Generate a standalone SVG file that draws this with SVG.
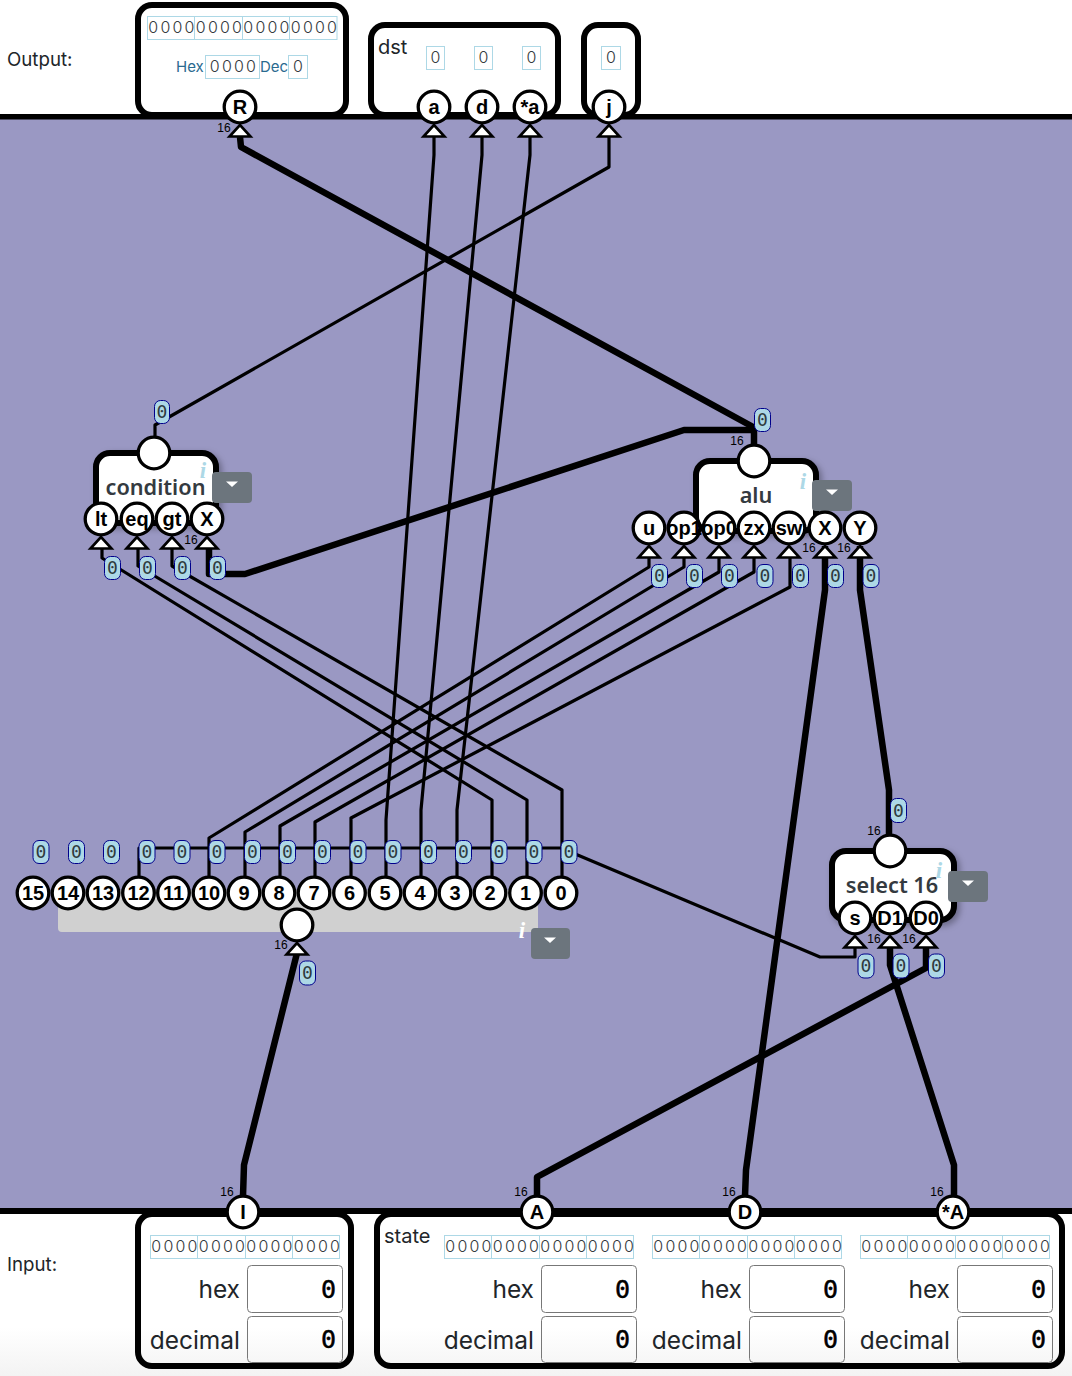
<svg xmlns="http://www.w3.org/2000/svg" width="1072" height="1376" viewBox="0 0 1072 1376">
<defs>
<linearGradient id="foot" x1="0" y1="0" x2="0" y2="1"><stop offset="0" stop-color="#ffffff"/><stop offset="0.7" stop-color="#ffffff"/><stop offset="1" stop-color="#f3f3f3"/></linearGradient>
<filter id="sh" x="-20%" y="-20%" width="150%" height="150%"><feDropShadow dx="3" dy="3" stdDeviation="3" flood-color="#000" flood-opacity="0.3"/></filter>
<polygon id="tri" points="0,0 -10.500,11.500 10.500,11.500" fill="#fff" stroke="#000" stroke-width="2.600" stroke-linejoin="miter"/>
<path id="caret" d="M-6,-2.500 L6,-2.500 L0,3 Z" fill="#fff"/>
</defs>
<style>
text{font-family:"Inter","Noto Sans","Liberation Sans",sans-serif;fill:#212529}
.w{fill:none;stroke:#000;stroke-width:3.200;stroke-linejoin:round;stroke-linecap:butt}
.t{fill:none;stroke:#000;stroke-width:6.500;stroke-linejoin:round;stroke-linecap:butt}
.box{fill:none;stroke:#000;stroke-width:6}
.blk{fill:#fff;stroke:#000;stroke-width:6;filter:url(#sh)}
.p{fill:#fff;stroke:#000;stroke-width:3.300}
.pl{font-family:"Liberation Sans",Arial,sans-serif;font-weight:700;font-size:20px;text-anchor:middle;fill:#000}
.wb{fill:#add8e6;stroke:#00008b;stroke-width:1}
.wt{font-family:"DejaVu Sans Mono",monospace;font-size:18px;text-anchor:middle;fill:#2f3b40}
.n{font-family:"Liberation Sans",Arial,sans-serif;font-size:12px;text-anchor:middle;fill:#000}
.bl{font-family:"Noto Sans","Open Sans",sans-serif;font-weight:600;font-size:21.700px;text-anchor:middle;fill:#343a40}
.i{font-family:"Liberation Serif",serif;font-style:italic;font-weight:700;font-size:23px;text-anchor:middle;fill:#add8e6}
.dd{fill:#6c757d}
.bb{fill:none;stroke:#add8e6;stroke-width:1}
.bt{font-size:16px;letter-spacing:2.200px;text-anchor:middle;fill:#343a40;font-weight:300}
.lab{font-size:24.500px;text-anchor:end}
.inp{fill:none;stroke:#777;stroke-width:1}
.val{font-family:"DejaVu Sans Mono",monospace;font-size:25px;text-anchor:end;fill:#000;stroke:#000;stroke-width:0.500px}
.hd{font-size:15px;fill:#2a6a8f}
</style>

<rect width="1072" height="1376" fill="#fff"/>
<rect y="1214" width="1072" height="162" fill="url(#foot)"/>
<rect y="114" width="1072" height="1100" fill="#9a98c3"/>
<rect y="114" width="1072" height="5.500" fill="#000"/>
<rect y="1208" width="1072" height="6" fill="#000"/>

<text x="7" y="66" font-size="18.700">Output:</text>
<text x="7" y="1271" font-size="18.700">Input:</text>

<g id="connectors">
<path class="t" d="M240,137 L241,147 L755,428"/>
<path class="t" d="M754,445 L754,430 L684,430 L245,574 L209,574 L209,546"/>
<path class="w" d="M434,137 L434,155 L386,820 L386,877"/>
<path class="w" d="M482,137 L482,155 L421,810 L421,877"/>
<path class="w" d="M530,137 L530,155 L457,810 L457,877"/>
<path class="w" d="M609,137 L609,167 L155,425 L155,437"/>
<path class="w" d="M102,546 L102,558 L492,800 L492,877"/>
<path class="w" d="M138,546 L138,566 L527,800 L527,877"/>
<path class="w" d="M172,546 L172,566 L562,790 L562,877"/>
<path class="w" d="M649,555 L649,567 L209,838 L209,877"/>
<path class="w" d="M684,555 L684,567 L245,832 L245,877"/>
<path class="w" d="M719,555 L719,572 L280,826 L280,877"/>
<path class="w" d="M754,555 L754,572 L315,822 L315,877"/>
<path class="w" d="M790,555 L790,587 L351,818 L351,877"/>
<path class="w" d="M139,877 L139,848 L561,848 L820,957 L855,957 L855,947"/>
<path class="t" d="M825,546 L825,590 L746,1170 L745,1196"/>
<path class="t" d="M860,546 L860,590 L889,790 L889,836"/>
<path class="t" d="M890,946 L890,965 L954,1165 L954,1196"/>
<path class="t" d="M926,946 L926,968 L537,1177 L537,1196"/>
<path class="t" d="M297,953 L244,1165 L243,1196"/>

<g id="wire-labels">
<rect class="wb" x="154.500" y="400.500" width="15" height="23" rx="6"/><text class="wt" x="162" y="418">0</text>
<rect class="wb" x="754.500" y="408.500" width="16" height="23" rx="6"/><text class="wt" x="762.500" y="426">0</text>
<rect class="wb" x="104.500" y="556.500" width="16" height="23" rx="6"/><text class="wt" x="112.500" y="574">0</text>
<rect class="wb" x="139.500" y="556.500" width="16" height="23" rx="6"/><text class="wt" x="147.500" y="574">0</text>
<rect class="wb" x="174.500" y="556.500" width="16" height="23" rx="6"/><text class="wt" x="182.500" y="574">0</text>
<rect class="wb" x="209.500" y="556.500" width="16" height="23" rx="6"/><text class="wt" x="217.500" y="574">0</text>
<rect class="wb" x="651.500" y="564.500" width="16" height="23" rx="6"/><text class="wt" x="659.500" y="582">0</text>
<rect class="wb" x="686.500" y="564.500" width="16" height="23" rx="6"/><text class="wt" x="694.500" y="582">0</text>
<rect class="wb" x="721.500" y="564.500" width="16" height="23" rx="6"/><text class="wt" x="729.500" y="582">0</text>
<rect class="wb" x="757" y="564.500" width="16" height="23" rx="6"/><text class="wt" x="765" y="582">0</text>
<rect class="wb" x="792.500" y="564.500" width="16" height="23" rx="6"/><text class="wt" x="800.500" y="582">0</text>
<rect class="wb" x="827.500" y="564.500" width="16" height="23" rx="6"/><text class="wt" x="835.500" y="582">0</text>
<rect class="wb" x="863" y="564.500" width="16" height="23" rx="6"/><text class="wt" x="871" y="582">0</text>
<rect class="wb" x="33" y="840.500" width="16" height="23" rx="6"/><text class="wt" x="41" y="858">0</text>
<rect class="wb" x="68.500" y="840.500" width="16" height="23" rx="6"/><text class="wt" x="76.500" y="858">0</text>
<rect class="wb" x="103.500" y="840.500" width="16" height="23" rx="6"/><text class="wt" x="111.500" y="858">0</text>
<rect class="wb" x="139" y="840.500" width="16" height="23" rx="6"/><text class="wt" x="147" y="858">0</text>
<rect class="wb" x="174" y="840.500" width="16" height="23" rx="6"/><text class="wt" x="182" y="858">0</text>
<rect class="wb" x="209" y="840.500" width="16" height="23" rx="6"/><text class="wt" x="217" y="858">0</text>
<rect class="wb" x="244.500" y="840.500" width="16" height="23" rx="6"/><text class="wt" x="252.500" y="858">0</text>
<rect class="wb" x="279.500" y="840.500" width="16" height="23" rx="6"/><text class="wt" x="287.500" y="858">0</text>
<rect class="wb" x="314.500" y="840.500" width="16" height="23" rx="6"/><text class="wt" x="322.500" y="858">0</text>
<rect class="wb" x="350" y="840.500" width="16" height="23" rx="6"/><text class="wt" x="358" y="858">0</text>
<rect class="wb" x="385" y="840.500" width="16" height="23" rx="6"/><text class="wt" x="393" y="858">0</text>
<rect class="wb" x="420.500" y="840.500" width="16" height="23" rx="6"/><text class="wt" x="428.500" y="858">0</text>
<rect class="wb" x="455.500" y="840.500" width="16" height="23" rx="6"/><text class="wt" x="463.500" y="858">0</text>
<rect class="wb" x="491" y="840.500" width="16" height="23" rx="6"/><text class="wt" x="499" y="858">0</text>
<rect class="wb" x="526" y="840.500" width="16" height="23" rx="6"/><text class="wt" x="534" y="858">0</text>
<rect class="wb" x="561" y="840.500" width="16" height="23" rx="6"/><text class="wt" x="569" y="858">0</text>
<rect class="wb" x="890.500" y="798.500" width="16" height="24" rx="6"/><text class="wt" x="898.500" y="817">0</text>
<rect class="wb" x="858" y="954" width="16" height="24" rx="6"/><text class="wt" x="866" y="972">0</text>
<rect class="wb" x="893" y="954" width="16" height="24" rx="6"/><text class="wt" x="901" y="972">0</text>
<rect class="wb" x="928.500" y="954" width="16" height="24" rx="6"/><text class="wt" x="936.500" y="972">0</text>
<rect class="wb" x="299.500" y="961" width="16" height="24" rx="6"/><text class="wt" x="307.500" y="979">0</text>
</g>
</g>

<g id="output-r">
<rect class="box" x="138" y="5" width="208" height="110" rx="14"/>
<rect class="bb" x="147.500" y="16.500" width="189.500" height="23"/>
<path class="bb" d="M194.500,16.500V39.500M242.500,16.500V39.500M289.500,16.500V39.500"/>
<text class="bt" x="172.500" y="33">0000</text><text class="bt" x="220" y="33">0000</text><text class="bt" x="267.500" y="33">0000</text><text class="bt" x="315" y="33">0000</text>
<text class="hd" x="176" y="72">Hex</text>
<rect class="bb" x="205.500" y="55.500" width="54" height="23"/>
<text class="bt" x="234" y="72">0000</text>
<text class="hd" x="260" y="72">Dec</text>
<rect class="bb" x="288.500" y="55.500" width="19" height="23"/>
<text class="bt" x="299" y="72">0</text>
<circle class="p" cx="240" cy="107" r="15.800"/><text class="pl" x="240" y="114">R</text>
<use href="#tri" x="240" y="125"/>
<text class="n" x="224" y="132">16</text>
</g>

<g id="output-dst">
<rect class="box" x="371" y="25" width="187" height="90" rx="14"/>
<text x="378" y="54" font-size="20">dst</text>
<rect class="bb" x="426.500" y="46.500" width="18" height="23"/><text class="bt" x="436.500" y="63">0</text>
<rect class="bb" x="474.500" y="46.500" width="18" height="23"/><text class="bt" x="484.500" y="63">0</text>
<rect class="bb" x="522.500" y="46.500" width="18" height="23"/><text class="bt" x="532.500" y="63">0</text>
<circle class="p" cx="434" cy="107" r="15.800"/><text class="pl" x="434" y="114">a</text>
<circle class="p" cx="482" cy="107" r="15.800"/><text class="pl" x="482" y="114">d</text>
<circle class="p" cx="530" cy="107" r="15.800"/><text class="pl" x="530" y="114">*a</text>
<use href="#tri" x="434" y="125"/><use href="#tri" x="482" y="125"/><use href="#tri" x="530" y="125"/>
</g>

<g id="output-j">
<rect class="box" x="584" y="25" width="54" height="90" rx="14"/>
<rect class="bb" x="601.500" y="46.500" width="19" height="23"/><text class="bt" x="612" y="63">0</text>
<circle class="p" cx="609" cy="107" r="15.800"/><text class="pl" x="609" y="114">j</text>
<use href="#tri" x="609" y="125"/>
</g>

<g id="condition">
<rect class="blk" x="96" y="453" width="120" height="70" rx="14"/>
<circle class="p" cx="154" cy="453" r="15.800"/>
<text class="bl" x="155.500" y="495">condition</text>
<text class="i" x="203" y="478">i</text>
<rect class="dd" x="212" y="472" width="40" height="31" rx="4"/><use href="#caret" x="232" y="484"/>
<circle class="p" cx="101" cy="519" r="15.800"/><text class="pl" x="101" y="526">lt</text>
<circle class="p" cx="137" cy="519" r="15.800"/><text class="pl" x="137" y="526">eq</text>
<circle class="p" cx="172" cy="519" r="15.800"/><text class="pl" x="172" y="526">gt</text>
<circle class="p" cx="207" cy="519" r="15.800"/><text class="pl" x="207" y="526">X</text>
<use href="#tri" x="101" y="537"/><use href="#tri" x="137" y="537"/><use href="#tri" x="172" y="537"/><use href="#tri" x="207" y="537"/>
<text class="n" x="191" y="544">16</text>
</g>

<g id="alu">
<rect class="blk" x="696" y="461" width="120" height="70" rx="14"/>
<circle class="p" cx="754" cy="461" r="15.800"/>
<text class="n" x="737" y="445">16</text>
<text class="bl" x="756" y="503">alu</text>
<text class="i" x="803" y="489">i</text>
<rect class="dd" x="812" y="480" width="40" height="31" rx="4"/><use href="#caret" x="832" y="492"/>
<circle class="p" cx="649" cy="528" r="15.800"/><text class="pl" x="649" y="535">u</text>
<circle class="p" cx="684" cy="528" r="15.800"/><text class="pl" x="684" y="535">op1</text>
<circle class="p" cx="719" cy="528" r="15.800"/><text class="pl" x="719" y="535">op0</text>
<circle class="p" cx="754" cy="528" r="15.800"/><text class="pl" x="754" y="535">zx</text>
<circle class="p" cx="789" cy="528" r="15.800"/><text class="pl" x="789" y="535">sw</text>
<circle class="p" cx="825" cy="528" r="15.800"/><text class="pl" x="825" y="535">X</text>
<circle class="p" cx="860" cy="528" r="15.800"/><text class="pl" x="860" y="535">Y</text>
<use href="#tri" x="649" y="546"/><use href="#tri" x="684" y="546"/><use href="#tri" x="719" y="546"/><use href="#tri" x="754" y="546"/><use href="#tri" x="789" y="546"/><use href="#tri" x="825" y="546"/><use href="#tri" x="860" y="546"/>
<text class="n" x="809" y="552">16</text><text class="n" x="844" y="552">16</text>
</g>

<g id="select16">
<rect class="blk" x="832" y="851" width="122" height="69" rx="14"/>
<circle class="p" cx="890" cy="851" r="15.800"/>
<text class="n" x="874" y="835">16</text>
<text class="bl" x="892" y="893">select 16</text>
<text class="i" x="939" y="878">i</text>
<rect class="dd" x="948" y="871" width="40" height="31" rx="4"/><use href="#caret" x="968" y="883"/>
<circle class="p" cx="855" cy="918" r="15.800"/><text class="pl" x="855" y="925">s</text>
<circle class="p" cx="890" cy="918" r="15.800"/><text class="pl" x="890" y="925">D1</text>
<circle class="p" cx="926" cy="918" r="15.800"/><text class="pl" x="926" y="925">D0</text>
<use href="#tri" x="855" y="936"/><use href="#tri" x="890" y="936"/><use href="#tri" x="926" y="936"/>
<text class="n" x="874" y="943">16</text><text class="n" x="909" y="943">16</text>
</g>

<g id="splitter">
<rect x="58" y="890" width="480" height="42" rx="4" fill="#d0d0d0"/>
<circle class="p" cx="33" cy="893" r="15.800"/><text class="pl" x="33" y="900">15</text>
<circle class="p" cx="68" cy="893" r="15.800"/><text class="pl" x="68" y="900">14</text>
<circle class="p" cx="103" cy="893" r="15.800"/><text class="pl" x="103" y="900">13</text>
<circle class="p" cx="138.500" cy="893" r="15.800"/><text class="pl" x="138.500" y="900">12</text>
<circle class="p" cx="173.500" cy="893" r="15.800"/><text class="pl" x="173.500" y="900">11</text>
<circle class="p" cx="209" cy="893" r="15.800"/><text class="pl" x="209" y="900">10</text>
<circle class="p" cx="244" cy="893" r="15.800"/><text class="pl" x="244" y="900">9</text>
<circle class="p" cx="279" cy="893" r="15.800"/><text class="pl" x="279" y="900">8</text>
<circle class="p" cx="314" cy="893" r="15.800"/><text class="pl" x="314" y="900">7</text>
<circle class="p" cx="349.500" cy="893" r="15.800"/><text class="pl" x="349.500" y="900">6</text>
<circle class="p" cx="385" cy="893" r="15.800"/><text class="pl" x="385" y="900">5</text>
<circle class="p" cx="420" cy="893" r="15.800"/><text class="pl" x="420" y="900">4</text>
<circle class="p" cx="455" cy="893" r="15.800"/><text class="pl" x="455" y="900">3</text>
<circle class="p" cx="490" cy="893" r="15.800"/><text class="pl" x="490" y="900">2</text>
<circle class="p" cx="525.500" cy="893" r="15.800"/><text class="pl" x="525.500" y="900">1</text>
<circle class="p" cx="561" cy="893" r="15.800"/><text class="pl" x="561" y="900">0</text>
<circle class="p" cx="297" cy="925" r="15.800"/>
<use href="#tri" x="297" y="943"/>
<text class="n" x="281" y="949">16</text>
<text class="i" x="522" y="938" style="fill:#fff">i</text>
<rect class="dd" x="531" y="928" width="39" height="31" rx="4"/><use href="#caret" x="550" y="940"/>
</g>

<g id="input-i">
<rect class="box" x="138" y="1214" width="213" height="152" rx="14"/>
<rect class="bb" x="150.500" y="1235.500" width="189" height="23"/>
<path class="bb" d="M197.500,1235.500V1258.500M245.500,1235.500V1258.500M292.500,1235.500V1258.500"/>
<text class="bt" x="175.500" y="1252">0000</text><text class="bt" x="223" y="1252">0000</text><text class="bt" x="270.500" y="1252">0000</text><text class="bt" x="318" y="1252">0000</text>
<text class="lab" x="240" y="1298">hex</text><text class="lab" x="240" y="1349">decimal</text>
<rect class="inp" x="247.500" y="1265.500" width="95" height="47" rx="4"/><text class="val" x="336" y="1298">0</text>
<rect class="inp" x="247.500" y="1316.500" width="95" height="46" rx="4"/><text class="val" x="336" y="1348">0</text>
<circle class="p" cx="243" cy="1212" r="15.800"/><text class="pl" x="243" y="1219">I</text>
<text class="n" x="227" y="1196">16</text>
</g>

<g id="input-state">
<rect class="box" x="377" y="1214" width="685" height="152" rx="14"/>
<text x="384" y="1243" font-size="20">state</text>
<rect class="bb" x="444.500" y="1235.500" width="189" height="23"/>
<path class="bb" d="M491.500,1235.500V1258.500M539.500,1235.500V1258.500M586.500,1235.500V1258.500"/>
<text class="bt" x="469.500" y="1252">0000</text><text class="bt" x="517" y="1252">0000</text><text class="bt" x="564.500" y="1252">0000</text><text class="bt" x="612" y="1252">0000</text>
<text class="lab" x="534" y="1298">hex</text><text class="lab" x="534" y="1349">decimal</text>
<rect class="inp" x="541.500" y="1265.500" width="95" height="47" rx="4"/><text class="val" x="630" y="1298">0</text>
<rect class="inp" x="541.500" y="1316.500" width="95" height="46" rx="4"/><text class="val" x="630" y="1348">0</text>
<rect class="bb" x="652.500" y="1235.500" width="189" height="23"/>
<path class="bb" d="M699.500,1235.500V1258.500M747.500,1235.500V1258.500M794.500,1235.500V1258.500"/>
<text class="bt" x="677.500" y="1252">0000</text><text class="bt" x="725" y="1252">0000</text><text class="bt" x="772.500" y="1252">0000</text><text class="bt" x="820" y="1252">0000</text>
<text class="lab" x="742" y="1298">hex</text><text class="lab" x="742" y="1349">decimal</text>
<rect class="inp" x="749.500" y="1265.500" width="95" height="47" rx="4"/><text class="val" x="838" y="1298">0</text>
<rect class="inp" x="749.500" y="1316.500" width="95" height="46" rx="4"/><text class="val" x="838" y="1348">0</text>
<rect class="bb" x="860.500" y="1235.500" width="189" height="23"/>
<path class="bb" d="M907.500,1235.500V1258.500M955.500,1235.500V1258.500M1002.500,1235.500V1258.500"/>
<text class="bt" x="885.500" y="1252">0000</text><text class="bt" x="933" y="1252">0000</text><text class="bt" x="980.500" y="1252">0000</text><text class="bt" x="1028" y="1252">0000</text>
<text class="lab" x="950" y="1298">hex</text><text class="lab" x="950" y="1349">decimal</text>
<rect class="inp" x="957.500" y="1265.500" width="95" height="47" rx="4"/><text class="val" x="1046" y="1298">0</text>
<rect class="inp" x="957.500" y="1316.500" width="95" height="46" rx="4"/><text class="val" x="1046" y="1348">0</text>
<circle class="p" cx="537" cy="1212" r="15.800"/><text class="pl" x="537" y="1219">A</text>
<circle class="p" cx="745" cy="1212" r="15.800"/><text class="pl" x="745" y="1219">D</text>
<circle class="p" cx="953" cy="1212" r="15.800"/><text class="pl" x="953" y="1219">*A</text>
<text class="n" x="521" y="1196">16</text><text class="n" x="729" y="1196">16</text><text class="n" x="937" y="1196">16</text>
</g>
</svg>
